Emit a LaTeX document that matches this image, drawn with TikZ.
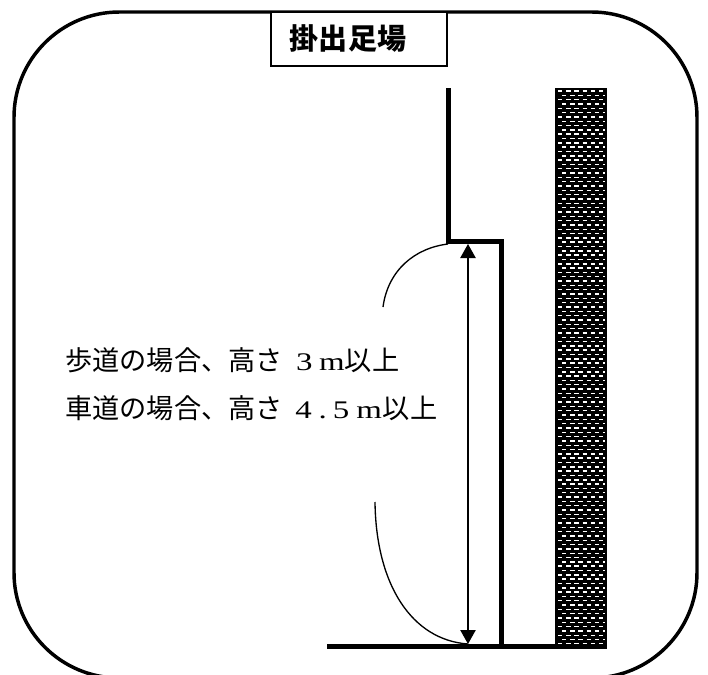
\documentclass[tikz,border=0pt]{standalone}
\usepackage{fontspec}
\setmainfont{Noto Sans CJK JP}
\newfontfamily\wideserif[FakeStretch=1.3]{Liberation Serif}
\usepackage{tikz}
\usetikzlibrary{arrows.meta, positioning}
\newcommand{\wide}[1]{{\wideserif\fontsize{19}{24}\selectfont #1}}
\tikzset{
    wall/.style={line width=3.75pt, line cap=butt},
    thinline/.style={line width=1pt},
    bodytext/.style={inner sep=0pt, anchor=base west, font=\fontsize{20.4}{24}\selectfont},
    measure/.style={thinline, {Triangle[length=10.5pt, width=11.5pt]}-{Triangle[length=10.5pt, width=11.5pt]}}
}
\begin{document}
\begin{tikzpicture}[x=0.75pt, y=-0.75pt]
    \clip (0, 0) rectangle (708, 675);
    \fill[white] (0, 0) rectangle (708, 675);
    % frame
    \draw[line width=2.6pt, rounded corners=79pt] (14, 12) rectangle (697, 678);
    % title
    \node[draw, fill=white, line width=0.9pt, minimum width=132pt, minimum height=40.5pt, inner sep=0pt] (title) at (359, 39) {\fontsize{21.8}{24}\selectfont\bfseries 掛出足場\rule{16.5pt}{0pt}};
    % building
    \fill[black] (555, 88) rectangle (607, 648);
    \foreach \row in {0, ..., 128} {
        \pgfmathsetmacro{\rowy}{91 + 4.32*\row}
        \pgfmathsetmacro{\rowx}{mod(\row, 2) == 0 ? 558 : 562}
        \draw[white, line width=1.1pt, dash pattern=on 3.3pt off 2.85pt] (\rowx, \rowy) -- (605, \rowy);
    }
    % scaffold
    \coordinate (walltop) at (448, 88);
    \coordinate (wallstep) at (448, 241.5);
    \coordinate (wallcorner) at (501.5, 241.5);
    \coordinate (wallfoot) at (501.5, 646);
    \coordinate (groundleft) at (327, 646);
    \coordinate (groundright) at (607, 646);
    \coordinate (arrowtop) at (468, 244);
    \coordinate (arrowfoot) at (468, 644);
    \coordinate (curveup) at (383, 307);
    \coordinate (curvetop) at (448, 244);
    \coordinate (curvedown) at (375, 502);
    \draw[wall] (walltop) -- (wallstep) -- (wallcorner) -- (wallfoot);
    \draw[wall] (groundleft) -- (groundright);
    \draw[measure] (arrowtop) -- (arrowfoot);
    \draw[thinline] (curveup) .. controls (388, 270) and (415, 248) .. (curvetop);
    \draw[thinline] (curvedown) .. controls (376, 585) and (412, 640) .. (arrowfoot);
    % labels
    \node[bodytext] (sidewalk) at (65, 370) {歩道の場合、高さ\hspace{10pt}\wide{3}\hspace{4.9pt}\wide{m}以上};
    \node[bodytext] (roadway) at (65, 418) {車道の場合、高さ\hspace{9.3pt}\wide{4}\hspace{5.2pt}\wide{.}\hspace{4.5pt}\wide{5}\hspace{5.2pt}\wide{m}\hspace{0.75pt}以上};
\end{tikzpicture}
\end{document}
